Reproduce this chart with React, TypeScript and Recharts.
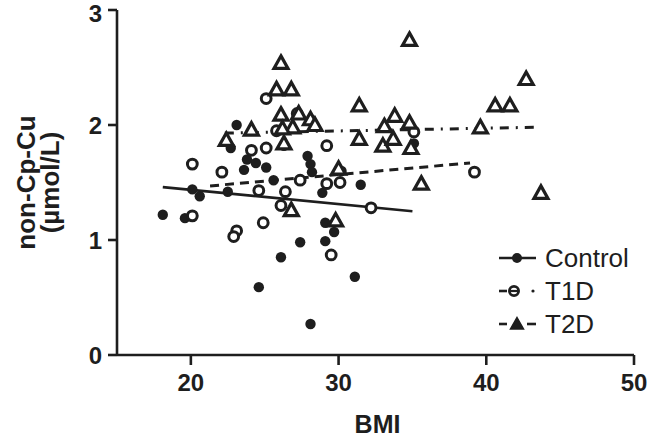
import { ScatterChart, Scatter, XAxis, YAxis } from "recharts"

const INK = "#1e1e1e"
const FONT = "'Liberation Sans', Arial, sans-serif"

const bmiTicks = [20, 30, 40, 50]
const cuTicks = [0, 1, 2, 3]
const seriesNames = ["Control", "T1D", "T2D"]

// [BMI, non-Cp-Cu]
const controlPoints = [
  [18.1, 1.22], [19.6, 1.19], [20.1, 1.44], [20.6, 1.38], [22.5, 1.42],
  [23.1, 2.0], [22.7, 1.8], [23.8, 1.7], [23.6, 1.61], [24.4, 1.67],
  [25.1, 1.63], [25.6, 1.52], [28.9, 1.41], [31.5, 1.48], [26.1, 0.85],
  [27.4, 0.98], [24.6, 0.59], [28.1, 0.27], [31.1, 0.68], [29.1, 1.15],
  [29.7, 1.07], [29.1, 0.99], [27.9, 1.73], [28.1, 1.66], [28.2, 1.59],
  [30.2, 1.6], [35.1, 1.84], [26.3, 1.82],
]
const t1dPoints = [
  [20.1, 1.66], [22.1, 1.59], [24.1, 1.78], [25.1, 1.8], [25.8, 1.95],
  [25.1, 2.23], [27.2, 2.1], [29.2, 1.82], [24.6, 1.43], [26.4, 1.42],
  [26.1, 1.3], [27.4, 1.52], [29.2, 1.49], [30.1, 1.5], [32.2, 1.28],
  [20.1, 1.21], [23.1, 1.08], [22.9, 1.03], [24.9, 1.15], [29.5, 0.87],
  [39.2, 1.59], [35.1, 1.94],
]
const t2dPoints = [
  [22.4, 1.87], [24.1, 1.96], [25.8, 2.31], [26.1, 2.54], [26.8, 2.31],
  [26.1, 2.09], [27.3, 2.1], [28.1, 2.05], [28.4, 2.0], [26.9, 1.98],
  [26.2, 1.97], [26.3, 1.84], [31.4, 2.17], [31.4, 1.88], [34.8, 2.74],
  [33.8, 2.08], [33.1, 1.99], [34.8, 2.02], [33.0, 1.82], [33.7, 1.88],
  [34.9, 1.8], [39.6, 1.98], [40.6, 2.17], [41.6, 2.17], [42.7, 2.4],
  [30.0, 1.62], [35.6, 1.49], [43.7, 1.41], [26.8, 1.26], [29.8, 1.17],
]

// regression line end points
const controlFit = [[18.1, 1.46], [35.0, 1.25]]
const t1dFit = [[21.3, 1.47], [38.9, 1.67]]
const t2dFit = [[22.3, 1.93], [43.3, 1.98]]

const toXY = (arr: number[][]) => arr.map(([x, y]) => ({ x, y }))

const Dot = (p: any) => <circle cx={p.cx} cy={p.cy} r={5.2} fill={INK} />
const Ring = (p: any) => (
  <circle cx={p.cx} cy={p.cy} r={4.9} fill="#fff" stroke={INK} strokeWidth={3} />
)
const Tri = (p: any) => (
  <path
    d={`M${p.cx},${p.cy - 7} L${p.cx + 7},${p.cy + 5.5} L${p.cx - 7},${p.cy + 5.5} Z`}
    fill="#fff"
    stroke={INK}
    strokeWidth={3.2}
  />
)
const Nothing = () => <g />

const tickStyle = { fontSize: 24, fontWeight: "bold", fill: INK, fontFamily: FONT }

function YTitle({ viewBox }: any) {
  const cy = viewBox.y + viewBox.height / 2
  const lines = ["non-Cp-Cu", "(µmol/L)"]
  return (
    <g>
      {lines.map((t, i) => (
        <text
          key={t}
          x={26 + i * 24}
          y={cy}
          transform={`rotate(-90, ${26 + i * 24}, ${cy})`}
          textAnchor="middle"
          dominantBaseline="central"
          fontSize={26}
          fontWeight="bold"
          fill={INK}
          fontFamily={FONT}
        >
          {t}
        </text>
      ))}
    </g>
  )
}

function XTitle({ viewBox }: any) {
  return (
    <text
      x={viewBox.x + viewBox.width / 2 + 2}
      y={424}
      textAnchor="middle"
      dominantBaseline="central"
      fontSize={25}
      fontWeight="bold"
      fill={INK}
      fontFamily={FONT}
    >
      BMI
    </text>
  )
}

function LegendIcon({ kind }: { kind: number }) {
  return (
    <svg width={40} height={20} style={{ display: "block" }}>
      {kind === 0 && (
        <>
          <line x1={1} y1={10} x2={38} y2={10} stroke={INK} strokeWidth={2.6} />
          <circle cx={19} cy={10} r={5} fill={INK} />
        </>
      )}
      {kind === 1 && (
        <>
          <line x1={1} y1={10} x2={9} y2={10} stroke={INK} strokeWidth={2.6} />
          <circle cx={16} cy={10} r={4.6} fill="#fff" stroke={INK} strokeWidth={2.8} />
          <line x1={12} y1={10} x2={20} y2={10} stroke={INK} strokeWidth={2.2} />
          <circle cx={35} cy={10} r={1.6} fill={INK} />
        </>
      )}
      {kind === 2 && (
        <>
          <line x1={1} y1={10} x2={9} y2={10} stroke={INK} strokeWidth={2.6} />
          <path d="M19,3.5 L25.5,15 L12.5,15 Z" fill={INK} stroke={INK} strokeWidth={1.5} />
          <line x1={29} y1={10} x2={38} y2={10} stroke={INK} strokeWidth={2.6} />
        </>
      )}
    </svg>
  )
}

export default function App() {
  return (
    <div style={{ position: "absolute", left: 0, top: 0, width: 650, height: 437, background: "#fff" }}>
      <ScatterChart width={650} height={437} margin={{ top: 10, right: 16, bottom: 12, left: 37 }}>
        <XAxis
          type="number"
          dataKey="x"
          domain={[15, 50]}
          ticks={bmiTicks}
          allowDataOverflow
          height={70}
          tick={tickStyle}
          tickSize={10}
          tickMargin={9}
          axisLine={{ stroke: INK, strokeWidth: 2.6 }}
          tickLine={{ stroke: INK, strokeWidth: 2.6 }}
          label={{ content: XTitle }}
        />
        <YAxis
          type="number"
          dataKey="y"
          domain={[0, 3]}
          ticks={cuTicks}
          allowDataOverflow
          width={80}
          tick={tickStyle}
          tickSize={9}
          tickMargin={6}
          axisLine={{ stroke: INK, strokeWidth: 2.6 }}
          tickLine={{ stroke: INK, strokeWidth: 2.6 }}
          label={{ content: YTitle }}
        />
        <Scatter
          data={toXY(controlFit)}
          line={{ stroke: INK, strokeWidth: 2.6 }}
          shape={Nothing}
          isAnimationActive={false}
        />
        <Scatter
          data={toXY(t1dFit)}
          line={{ stroke: INK, strokeWidth: 3, strokeDasharray: "9 6" }}
          shape={Nothing}
          isAnimationActive={false}
        />
        <Scatter
          data={toXY(t2dFit)}
          line={{ stroke: INK, strokeWidth: 3, strokeDasharray: "9 7 2 7" }}
          shape={Nothing}
          isAnimationActive={false}
        />
        <Scatter name="Control" data={toXY(controlPoints)} shape={Dot} isAnimationActive={false} />
        <Scatter name="T1D" data={toXY(t1dPoints)} shape={Ring} isAnimationActive={false} />
        <Scatter name="T2D" data={toXY(t2dPoints)} shape={Tri} isAnimationActive={false} />
      </ScatterChart>
      <div style={{ position: "absolute", left: 498, top: 241, fontFamily: FONT, color: INK }}>
        {seriesNames.map((n, i) => (
          <div key={n} style={{ display: "flex", alignItems: "center", height: 33 }}>
            <LegendIcon kind={i} />
            <span style={{ fontSize: 26, marginLeft: 7, lineHeight: "26px" }}>{n}</span>
          </div>
        ))}
      </div>
    </div>
  )
}
